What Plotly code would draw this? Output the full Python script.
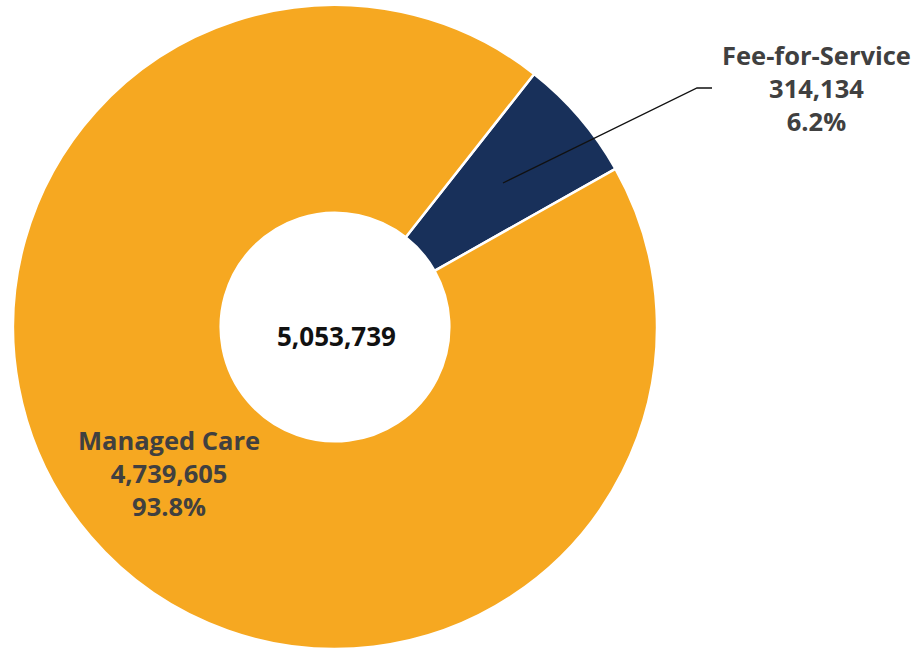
import plotly.graph_objects as go

labels = ["Fee-for-Service", "Managed Care"]
values = [314134, 4739605]
colors = ["#18305A", "#F6A821"]
total = sum(values)

W, H = 919, 651
CX, CY, R = 335, 327, 322

def px(x, y):
    return x / W, 1 - y / H

fig = go.Figure(go.Pie(
    labels=labels, values=values, sort=False, direction="clockwise",
    rotation=38.2, hole=0.355, textinfo="none", hoverinfo="label+value+percent",
    marker=dict(colors=colors, line=dict(color="white", width=2.5)),
    domain=dict(x=[(CX - R) / W, (CX + R) / W], y=[1 - (CY + R) / H, 1 - (CY - R) / H]),
    showlegend=False,
))

font = dict(family="Open Sans, Noto Sans, sans-serif", size=25.5, color="#404040")
annos = []
ffs_text = f"<b>{labels[0]}</b><br><b>{values[0]:,}</b><br><b>{values[0]/total*100:.1f}%</b>"
mc_text = f"<b>{labels[1]}</b><br><b>{values[1]:,}</b><br><b>{values[1]/total*100:.1f}%</b>"
x, y = px(816, 88)
annos.append(dict(x=x, y=y, xref="paper", yref="paper", text=ffs_text, showarrow=False,
                  font=font, align="center", xanchor="center", yanchor="middle"))
x, y = px(169, 473)
annos.append(dict(x=x, y=y, xref="paper", yref="paper", text=mc_text, showarrow=False,
                  font=font, align="center", xanchor="center", yanchor="middle"))
x, y = px(336, 336)
annos.append(dict(x=x, y=y, xref="paper", yref="paper", text=f"<b>{total:,}</b>", showarrow=False,
                  font=dict(family="Open Sans, Noto Sans, sans-serif", size=26, color="#111111"),
                  xanchor="center", yanchor="middle"))

p1 = px(503, 183); p2 = px(697, 88); p3 = px(712, 88)
fig.add_shape(type="path", xref="paper", yref="paper",
              path=f"M {p1[0]} {p1[1]} L {p2[0]} {p2[1]} L {p3[0]} {p3[1]}",
              line=dict(color="#111111", width=1.3))

fig.update_layout(width=W, height=H, margin=dict(l=0, r=0, t=0, b=0),
                  paper_bgcolor="white", plot_bgcolor="white", annotations=annos)
fig.write_html("out.html", config={"displayModeBar": False},
               post_script="document.body.style.margin='0';document.body.style.overflow='hidden';")
